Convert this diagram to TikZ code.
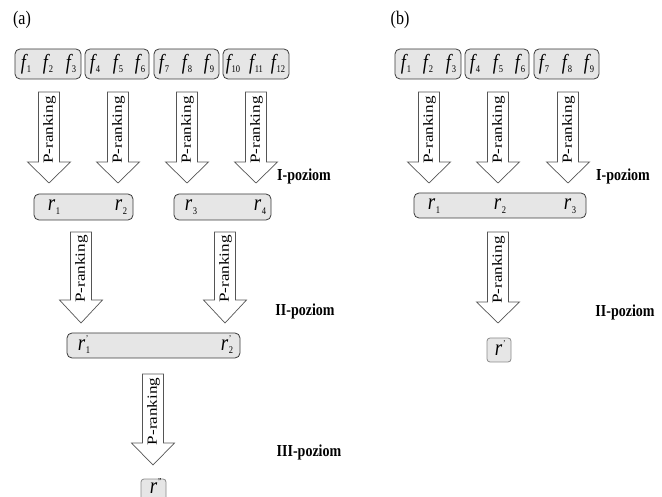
\documentclass[tikz,border=0pt]{standalone}
\usepackage{fontspec}
\setmainfont{Liberation Serif}
\usepackage{graphicx}
\definecolor{boxfill}{HTML}{E6E6E6}
\definecolor{boxline}{HTML}{3A3A3A}
\definecolor{lightline}{HTML}{8A8A8A}
\definecolor{arrline}{HTML}{555555}
\newcommand\fv[1]{\scalebox{1}[1.2]{\fontsize{18}{18}\selectfont\itshape f\kern0.8pt\raisebox{-3pt}{\upshape\fontsize{8.5}{8.5}\selectfont #1}}}
\newcommand\rv[2]{\scalebox{1}[1.2]{\fontsize{19}{19}\selectfont\itshape r\kern0.8pt\rlap{\raisebox{7pt}{\upshape\fontsize{7.5}{7.5}\selectfont #2}}\raisebox{-3pt}{\upshape\fontsize{8.5}{8.5}\selectfont #1}}}
\newcommand\lvl[1]{\scalebox{1}[1.2]{\fontsize{14}{14}\selectfont\bfseries #1}}
\tikzset{
  fbox/.style={draw=boxline, fill=boxfill, line width=0.8pt, rounded corners=5pt},
  sbox/.style={draw=lightline, fill=boxfill, line width=0.8pt, rounded corners=3pt},
  arr/.style={draw=arrline, fill=white, line width=0.7pt, line join=miter},
  plabel/.style={rotate=90, inner sep=0pt, font=\fontsize{14}{14}\selectfont},
  txt/.style={inner sep=0pt},
}
\newcommand\parrow[5]{%
  \draw[arr] ({#2-10.5},#3) -- ({#2+10.5},#3) -- ({#2+10.5},#4) -- ({#2+21.5},#4) -- (#2,#5) -- ({#2-21.5},#4) -- ({#2-10.5},#4) -- cycle;
  \node[plabel] (#1) at ({#2+0.5},{(#3+#4)/2+3}) {\scalebox{1.22}[1]{P-ranking}};}
\begin{document}
\begin{tikzpicture}[x=1pt,y=-1pt]
\useasboundingbox (0,0) rectangle (662,497);
\clip (0,0) rectangle (662,497);
% ---------------- (a)
\node[txt] (la) at (22,20) {\scalebox{1}[1.2]{\fontsize{16}{16}\selectfont (a)}};
\draw[fbox] (15,49) rectangle (81,79);
\draw[fbox] (85,49) rectangle (149,79);
\draw[fbox] (154,49) rectangle (219,79);
\draw[fbox] (223,49) rectangle (289,79);
\node[txt] (a1) at (26,64) {\fv{1}};
\node[txt] (a2) at (48,64) {\fv{2}};
\node[txt] (a3) at (71,64) {\fv{3}};
\node[txt] (a4) at (95,64) {\fv{4}};
\node[txt] (a5) at (118,64) {\fv{5}};
\node[txt] (a6) at (140,64) {\fv{6}};
\node[txt] (a7) at (164,64) {\fv{7}};
\node[txt] (a8) at (187,64) {\fv{8}};
\node[txt] (a9) at (209,64) {\fv{9}};
\node[txt] (a10) at (233,64) {\fv{10}};
\node[txt] (a11) at (256,64) {\fv{11}};
\node[txt] (a12) at (278,64) {\fv{12}};
\parrow{pa1}{49}{92}{162}{183}
\parrow{pa2}{118}{92}{162}{183}
\parrow{pa3}{187}{92}{162}{183}
\parrow{pa4}{256}{92}{162}{183}
\node[txt] (lva1) at (304,176) {\lvl{I-poziom}};
\draw[fbox] (34,194) rectangle (133,220);
\draw[fbox] (174,194) rectangle (271,220);
\node[txt] (ra1) at (54,207) {\rv{1}{}};
\node[txt] (ra2) at (121,207) {\rv{2}{}};
\node[txt] (ra3) at (191,207) {\rv{3}{}};
\node[txt] (ra4) at (260,207) {\rv{4}{}};
\parrow{pb1}{81}{232}{300}{323}
\parrow{pb2}{225}{232}{300}{323}
\node[txt] (lva2) at (305,311) {\lvl{II-poziom}};
\draw[fbox] (67,333) rectangle (240,358);
\node[txt] (rpa1) at (84,345) {\rv{1}{'}};
\node[txt] (rpa2) at (227,345) {\rv{2}{'}};
\parrow{pc1}{153}{374}{443}{465}
\node[txt] (lva3) at (309,452) {\lvl{III-poziom}};
\draw[sbox] (141,479) rectangle (166,505);
\node[txt] (rpp) at (154,488) {\rv{}{''}};
% ---------------- (b)
\node[txt] (lb) at (400,20) {\scalebox{1}[1.2]{\fontsize{16}{16}\selectfont (b)}};
\draw[fbox] (395,49) rectangle (461,79);
\draw[fbox] (465,49) rectangle (529,79);
\draw[fbox] (534,49) rectangle (599,79);
\node[txt] (b1) at (406,64) {\fv{1}};
\node[txt] (b2) at (428,64) {\fv{2}};
\node[txt] (b3) at (451,64) {\fv{3}};
\node[txt] (b4) at (475,64) {\fv{4}};
\node[txt] (b5) at (498,64) {\fv{5}};
\node[txt] (b6) at (520,64) {\fv{6}};
\node[txt] (b7) at (544,64) {\fv{7}};
\node[txt] (b8) at (567,64) {\fv{8}};
\node[txt] (b9) at (589,64) {\fv{9}};
\parrow{qa1}{429}{92}{162}{183}
\parrow{qa2}{498}{92}{162}{183}
\parrow{qa3}{568}{92}{162}{183}
\node[txt] (lvb1) at (623,176) {\lvl{I-poziom}};
\draw[fbox] (414,193) rectangle (586,218);
\node[txt] (rb1) at (434,206) {\rv{1}{}};
\node[txt] (rb2) at (500,206) {\rv{2}{}};
\node[txt] (rb3) at (570,206) {\rv{3}{}};
\parrow{qb1}{498}{232}{302}{323}
\node[txt] (lvb2) at (625,312) {\lvl{II-poziom}};
\draw[sbox] (487,338) rectangle (511,362);
\node[txt] (rpb) at (499,350) {\rv{}{'}};
\end{tikzpicture}
\end{document}
